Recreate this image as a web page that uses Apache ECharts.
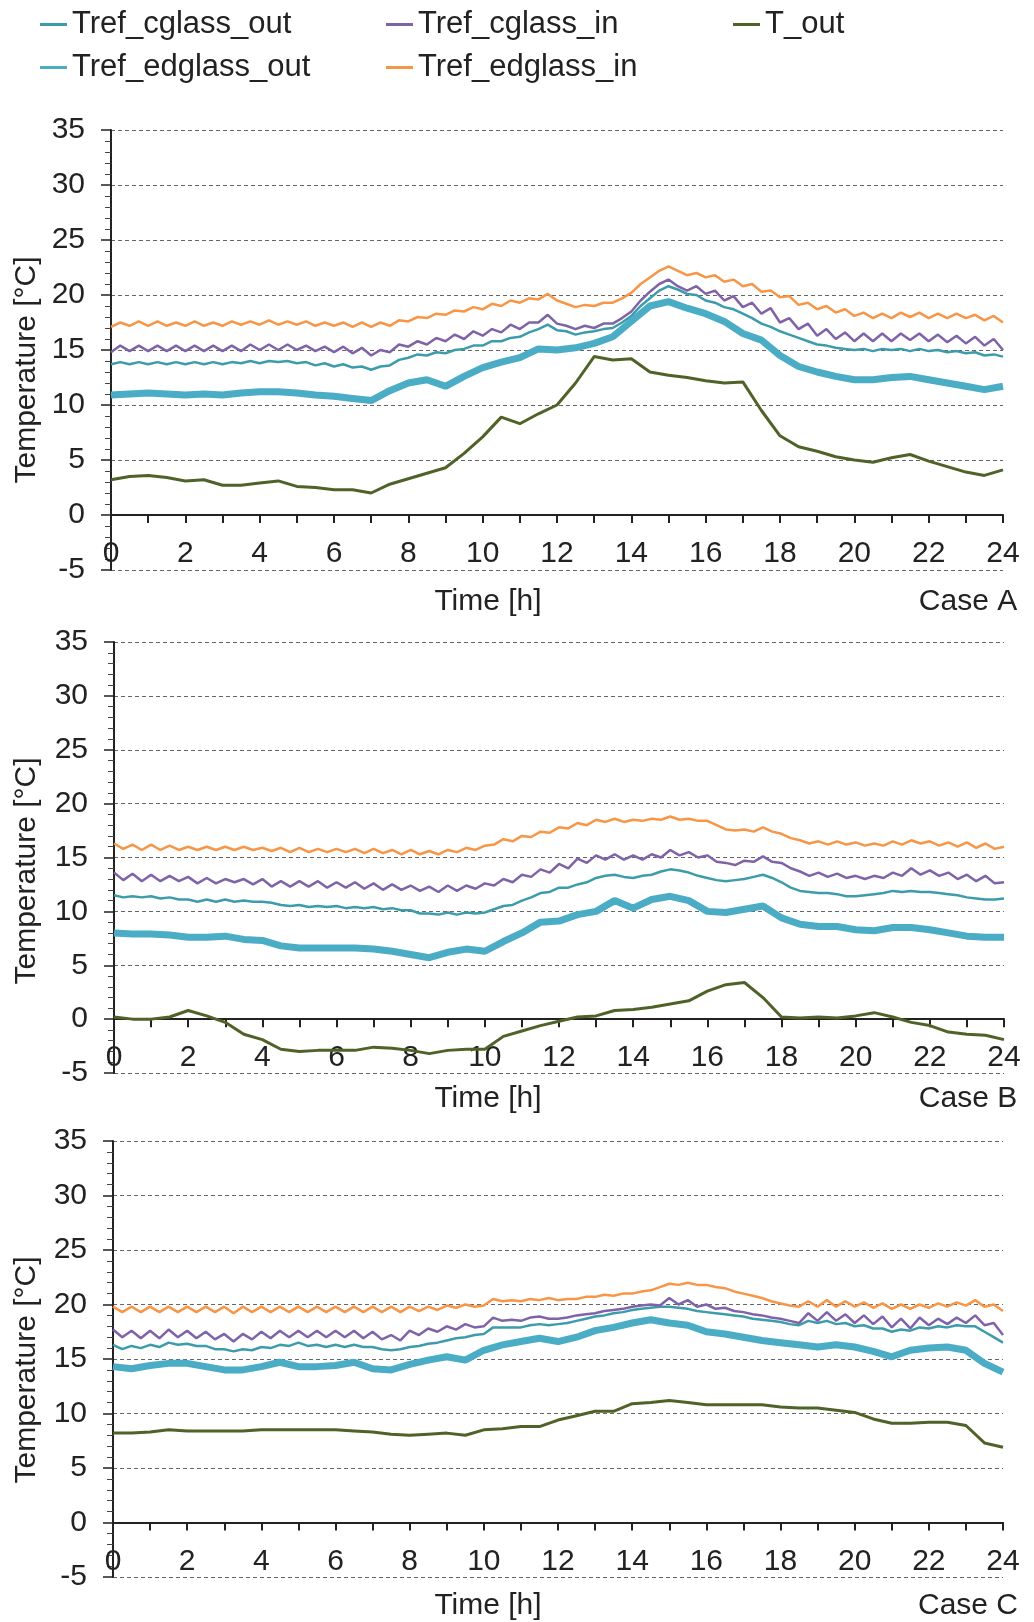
<!DOCTYPE html>
<html>
<head>
<meta charset="utf-8">
<script src="https://cdn.jsdelivr.net/npm/echarts@6/dist/echarts.min.js"></script>
<style>
  html, body { margin: 0; padding: 0; background: #fff; }
  #chart { width: 1034px; height: 1622px; }
</style>
</head>
<body>
<div id="chart"></div>
<script>
// sample times: glass-surface series every 15 min, T_out / edge-out every 30 min
const hoursQuarter = Array.from({ length: 97 }, (_, i) => i / 4);
const hoursHalf = Array.from({ length: 49 }, (_, i) => i / 2);

const seriesNames = ["Tref_cglass_out", "Tref_cglass_in", "T_out", "Tref_edglass_out", "Tref_edglass_in"];
const caseLabels = ["Case A", "Case B", "Case C"];

// ---- Case A ----
const caseA_cglassOut = [
  13.7, 13.9, 13.7, 13.9, 13.7, 13.9, 13.7, 13.9,
  13.7, 13.9, 13.7, 13.9, 13.7, 13.9, 13.8, 14.0,
  13.8, 14.0, 13.9, 14.0, 13.8, 13.9, 13.6, 13.8,
  13.5, 13.7, 13.4, 13.5, 13.2, 13.5, 13.6, 14.1,
  14.3, 14.6, 14.5, 14.8, 14.7, 15.0, 15.1, 15.4,
  15.4, 15.8, 15.8, 16.1, 16.2, 16.6, 16.9, 17.3,
  16.8, 16.7, 16.4, 16.6, 16.7, 16.9, 17.0, 17.5,
  18.1, 19.0, 19.7, 20.4, 20.8, 20.5, 20.1, 20.0,
  19.5, 19.3, 18.9, 18.7, 18.3, 17.9, 17.4, 17.1,
  16.7, 16.4, 16.1, 15.8, 15.5, 15.4, 15.2, 15.1,
  15.0, 15.1, 14.9, 15.1, 15.0, 15.1, 14.9, 15.1,
  14.9, 15.0, 14.8, 14.9, 14.7, 14.8, 14.5, 14.6,
  14.4
];
const caseA_cglassIn = [
  14.8, 15.4, 14.9, 15.4, 14.9, 15.4, 14.9, 15.4,
  14.9, 15.4, 14.9, 15.4, 14.9, 15.4, 14.9, 15.5,
  15.0, 15.5, 15.0, 15.5, 15.0, 15.4, 14.9, 15.3,
  14.8, 15.3, 14.7, 15.2, 14.5, 15.0, 14.8, 15.5,
  15.3, 15.8, 15.5, 16.1, 15.8, 16.4, 16.0, 16.7,
  16.3, 16.9, 16.6, 17.3, 16.9, 17.5, 17.5, 18.2,
  17.4, 17.2, 16.9, 17.2, 17.0, 17.4, 17.4, 17.9,
  18.5, 19.5, 20.3, 21.0, 21.4, 20.8, 20.4, 20.8,
  20.1, 20.4, 19.5, 19.9, 18.9, 19.3, 18.3, 18.8,
  17.5, 17.9, 16.9, 17.4, 16.3, 16.9, 16.0, 16.6,
  15.8, 16.5, 15.8, 16.5, 15.8, 16.5, 15.9, 16.5,
  15.8, 16.4, 15.7, 16.3, 15.6, 16.2, 15.4, 16.0,
  15.0
];
const caseA_tOut = [
  3.2, 3.5, 3.6, 3.4, 3.1, 3.2, 2.7, 2.7,
  2.9, 3.1, 2.6, 2.5, 2.3, 2.3, 2.0, 2.8,
  3.3, 3.8, 4.3, 5.6, 7.1, 8.9, 8.3, 9.2,
  10.0, 12.0, 14.4, 14.1, 14.2, 13.0, 12.7, 12.5,
  12.2, 12.0, 12.1, 9.5, 7.2, 6.2, 5.8, 5.3,
  5.0, 4.8, 5.2, 5.5, 4.9, 4.4, 3.9, 3.6,
  4.1
];
const caseA_edglassOut = [
  10.9, 11.0, 11.1, 11.0, 10.9, 11.0, 10.9, 11.1,
  11.2, 11.2, 11.1, 10.9, 10.8, 10.6, 10.4, 11.3,
  12.0, 12.3, 11.7, 12.6, 13.4, 13.9, 14.3, 15.1,
  15.0, 15.2, 15.6, 16.2, 17.6, 19.0, 19.4, 18.8,
  18.3, 17.6, 16.5, 15.9, 14.5, 13.5, 13.0, 12.6,
  12.3, 12.3, 12.5, 12.6, 12.3, 12.0, 11.7, 11.4,
  11.7
];
const caseA_edglassIn = [
  17.1, 17.5, 17.2, 17.6, 17.2, 17.6, 17.2, 17.5,
  17.2, 17.6, 17.2, 17.5, 17.2, 17.6, 17.3, 17.6,
  17.3, 17.7, 17.3, 17.6, 17.3, 17.6, 17.2, 17.5,
  17.2, 17.5, 17.1, 17.5, 17.1, 17.5, 17.2, 17.7,
  17.6, 18.0, 17.9, 18.3, 18.2, 18.6, 18.5, 18.9,
  18.7, 19.2, 19.0, 19.5, 19.3, 19.7, 19.6, 20.1,
  19.5, 19.2, 18.9, 19.1, 19.0, 19.3, 19.3, 19.7,
  20.2, 21.0, 21.6, 22.2, 22.6, 22.2, 21.8, 22.0,
  21.6, 21.8, 21.2, 21.4, 20.8, 21.0, 20.3, 20.4,
  19.8, 19.9, 19.1, 19.3, 18.7, 19.0, 18.4, 18.7,
  18.1, 18.4, 17.9, 18.3, 17.9, 18.4, 18.0, 18.4,
  17.9, 18.3, 17.9, 18.3, 17.9, 18.2, 17.7, 18.1,
  17.5
];

// ---- Case B ----
const caseB_cglassOut = [
  11.5, 11.3, 11.4, 11.3, 11.4, 11.2, 11.3, 11.1,
  11.1, 10.9, 11.1, 10.9, 11.1, 10.9, 11.0, 10.9,
  10.9, 10.8, 10.6, 10.5, 10.6, 10.4, 10.5, 10.4,
  10.5, 10.3, 10.4, 10.3, 10.4, 10.2, 10.3, 10.1,
  10.1, 9.8, 9.8, 9.7, 9.9, 9.7, 9.9, 9.8,
  9.9, 10.2, 10.5, 10.6, 11.0, 11.3, 11.7, 11.8,
  12.2, 12.2, 12.5, 12.7, 13.1, 13.3, 13.4, 13.2,
  13.1, 13.3, 13.4, 13.7, 13.9, 13.8, 13.6, 13.3,
  13.1, 12.9, 12.8, 12.9, 13.0, 13.2, 13.4, 13.1,
  12.7, 12.2, 11.9, 11.8, 11.7, 11.7, 11.6, 11.4,
  11.4, 11.5, 11.6, 11.7, 11.9, 11.8, 11.9, 11.8,
  11.8, 11.7, 11.6, 11.5, 11.3, 11.2, 11.1, 11.1,
  11.2
];
const caseB_cglassIn = [
  13.6, 12.9, 13.5, 12.8, 13.4, 12.8, 13.3, 12.8,
  13.2, 12.6, 13.1, 12.6, 13.0, 12.7, 13.0, 12.5,
  13.0, 12.3, 12.8, 12.3, 12.8, 12.3, 12.8, 12.2,
  12.7, 12.2, 12.7, 12.1, 12.6, 12.0, 12.5, 12.0,
  12.4, 11.9, 12.3, 11.8, 12.4, 11.9, 12.4, 12.1,
  12.6, 12.4, 13.0, 12.7, 13.4, 13.2, 13.9, 13.6,
  14.4, 14.0, 14.9, 14.5, 15.2, 14.8, 15.3, 14.8,
  15.2, 14.8, 15.3, 15.0, 15.7, 15.2, 15.5, 15.0,
  15.2, 14.6, 14.5, 14.3, 14.7, 14.6, 15.1, 14.6,
  14.5, 14.0, 13.7, 13.3, 13.6, 13.2, 13.5, 13.1,
  13.3, 13.0, 13.3, 13.1, 13.6, 13.3, 14.0, 13.4,
  13.8, 13.3, 13.6, 13.0, 13.4, 12.8, 13.3, 12.6,
  12.7
];
const caseB_tOut = [
  0.2, 0.0, 0.0, 0.2, 0.8, 0.3, -0.3, -1.4,
  -1.9, -2.8, -3.0, -2.9, -2.9, -2.9, -2.6, -2.7,
  -2.9, -3.2, -2.9, -2.8, -2.8, -1.6, -1.1, -0.6,
  -0.2, 0.2, 0.3, 0.8, 0.9, 1.1, 1.4, 1.7,
  2.6, 3.2, 3.4, 2.0, 0.2, 0.1, 0.2, 0.1,
  0.3, 0.6, 0.2, -0.3, -0.6, -1.2, -1.4, -1.5,
  -1.9
];
const caseB_edglassOut = [
  8.0, 7.9, 7.9, 7.8, 7.6, 7.6, 7.7, 7.4,
  7.3, 6.8, 6.6, 6.6, 6.6, 6.6, 6.5, 6.3,
  6.0, 5.7, 6.2, 6.5, 6.3, 7.2, 8.0, 9.0,
  9.1, 9.7, 10.0, 11.0, 10.3, 11.1, 11.4, 11.0,
  10.0, 9.9, 10.2, 10.5, 9.4, 8.8, 8.6, 8.6,
  8.3, 8.2, 8.5, 8.5, 8.3, 8.0, 7.7, 7.6,
  7.6
];
const caseB_edglassIn = [
  16.3, 15.8, 16.2, 15.7, 16.2, 15.7, 16.1, 15.7,
  16.0, 15.7, 16.0, 15.7, 16.0, 15.7, 16.0, 15.7,
  15.9, 15.6, 15.9, 15.5, 15.9, 15.5, 15.8, 15.5,
  15.8, 15.5, 15.8, 15.4, 15.8, 15.4, 15.7, 15.3,
  15.7, 15.3, 15.6, 15.3, 15.7, 15.5, 15.9, 15.7,
  16.1, 16.2, 16.7, 16.5, 17.0, 16.9, 17.4, 17.3,
  17.8, 17.7, 18.2, 18.0, 18.5, 18.3, 18.6, 18.3,
  18.5, 18.4, 18.6, 18.5, 18.8, 18.5, 18.6, 18.4,
  18.4, 18.0, 17.6, 17.5, 17.6, 17.4, 17.8, 17.4,
  17.2, 16.8, 16.6, 16.3, 16.5, 16.2, 16.5, 16.2,
  16.4, 16.1, 16.3, 16.1, 16.5, 16.2, 16.6, 16.3,
  16.5, 16.1, 16.4, 16.0, 16.4, 15.9, 16.3, 15.8,
  16.0
];

// ---- Case C ----
const caseC_cglassOut = [
  16.3, 15.9, 16.2, 16.0, 16.3, 16.1, 16.5, 16.3,
  16.4, 16.2, 16.2, 15.9, 15.9, 15.7, 15.9, 15.8,
  16.1, 16.0, 16.3, 16.2, 16.5, 16.2, 16.3, 16.1,
  16.3, 16.1, 16.3, 16.1, 16.1, 15.9, 15.8, 15.9,
  16.1, 16.2, 16.4, 16.5, 16.7, 16.9, 17.0, 17.2,
  17.3, 17.9, 17.9, 17.9, 17.9, 18.1, 18.2, 18.1,
  18.2, 18.3, 18.5, 18.7, 18.9, 19.0, 19.2, 19.3,
  19.5, 19.6, 19.7, 19.8, 19.8, 19.7, 19.6, 19.4,
  19.3, 19.2, 19.1, 19.0, 18.9, 18.7, 18.6, 18.5,
  18.4, 18.2, 18.1, 18.5, 18.3, 18.5, 18.2, 18.3,
  18.0, 18.1, 17.8, 17.8, 17.5, 17.7, 17.6, 17.9,
  17.8, 18.0, 17.9, 18.1, 18.0, 18.0, 17.5, 17.0,
  16.5
];
const caseC_cglassIn = [
  17.7, 17.0, 17.6, 16.9, 17.6, 16.9, 17.7, 17.0,
  17.6, 16.9, 17.5, 16.8, 17.3, 16.6, 17.3, 16.8,
  17.5, 16.9, 17.6, 17.0, 17.6, 17.0, 17.6, 17.0,
  17.6, 17.0, 17.6, 16.9, 17.5, 16.8, 17.2, 16.7,
  17.6, 17.2, 17.8, 17.5, 18.0, 17.7, 18.2, 17.9,
  18.0, 18.8, 18.5, 18.6, 18.5, 18.8, 18.9, 18.7,
  18.7, 18.8, 19.0, 19.1, 19.2, 19.4, 19.5, 19.6,
  19.8, 19.9, 20.0, 19.9, 20.6, 20.0, 20.4, 19.8,
  20.0, 19.6, 19.7, 19.4, 19.3, 19.1, 19.0, 18.8,
  18.7, 18.5, 18.3, 19.2, 18.5, 19.3, 18.5, 19.1,
  18.3, 19.0, 18.2, 18.9, 17.9, 18.7, 17.8, 18.8,
  18.1, 18.7, 18.2, 18.8, 18.3, 19.0, 18.1, 18.3,
  17.2
];
const caseC_tOut = [
  8.2, 8.2, 8.3, 8.5, 8.4, 8.4, 8.4, 8.4,
  8.5, 8.5, 8.5, 8.5, 8.5, 8.4, 8.3, 8.1,
  8.0, 8.1, 8.2, 8.0, 8.5, 8.6, 8.8, 8.8,
  9.4, 9.8, 10.2, 10.2, 10.9, 11.0, 11.2, 11.0,
  10.8, 10.8, 10.8, 10.8, 10.6, 10.5, 10.5, 10.3,
  10.1, 9.5, 9.1, 9.1, 9.2, 9.2, 8.9, 7.3,
  6.9
];
const caseC_edglassOut = [
  14.3, 14.1, 14.4, 14.6, 14.6, 14.3, 14.0, 14.0,
  14.3, 14.7, 14.3, 14.3, 14.4, 14.7, 14.1, 14.0,
  14.5, 14.9, 15.2, 14.9, 15.8, 16.3, 16.6, 16.9,
  16.6, 17.0, 17.6, 17.9, 18.3, 18.6, 18.3, 18.1,
  17.5, 17.3, 17.0, 16.7, 16.5, 16.3, 16.1, 16.3,
  16.1, 15.7, 15.2, 15.8, 16.0, 16.1, 15.8, 14.6,
  13.8
];
const caseC_edglassIn = [
  19.8, 19.3, 19.8, 19.3, 19.8, 19.3, 19.8, 19.3,
  19.8, 19.3, 19.8, 19.3, 19.8, 19.2, 19.8, 19.3,
  19.8, 19.3, 19.8, 19.3, 19.8, 19.3, 19.8, 19.3,
  19.8, 19.3, 19.8, 19.3, 19.8, 19.3, 19.8, 19.3,
  19.8, 19.4, 19.8, 19.5, 19.9, 19.7, 20.0, 19.8,
  19.9, 20.5, 20.3, 20.4, 20.3, 20.5, 20.4, 20.6,
  20.4, 20.5, 20.5, 20.7, 20.7, 20.9, 20.8, 21.0,
  21.0, 21.2, 21.3, 21.6, 21.9, 21.8, 22.0, 21.8,
  21.8, 21.6, 21.5, 21.2, 21.0, 20.8, 20.6, 20.3,
  20.1, 19.9, 19.8, 20.3, 19.8, 20.4, 19.8, 20.3,
  19.8, 20.2, 19.7, 20.1, 19.6, 20.0, 19.6, 20.0,
  19.7, 20.1, 19.8, 20.2, 19.9, 20.4, 19.8, 20.0,
  19.4
];

const yTicks = { min: -5, max: 35, step: 5 };

const FONT = "'Liberation Sans', Arial, sans-serif";
const TEXT = "#222";

const cases = [
  [caseA_cglassOut, caseA_cglassIn, caseA_tOut, caseA_edglassOut, caseA_edglassIn],
  [caseB_cglassOut, caseB_cglassIn, caseB_tOut, caseB_edglassOut, caseB_edglassIn],
  [caseC_cglassOut, caseC_cglassIn, caseC_tOut, caseC_edglassOut, caseC_edglassIn]
];

// per series: colour, width, which time grid
const looks = [
  { color: "#3d9cab", width: 2.5, x: hoursQuarter },
  { color: "#7f63a8", width: 2.5, x: hoursQuarter },
  { color: "#4f6228", width: 3, x: hoursHalf },
  { color: "#4bacc6", width: 7, x: hoursHalf },
  { color: "#f79646", width: 2.5, x: hoursQuarter }
];

const grids = [
  { left: 111, top: 130, width: 892, height: 440 },
  { left: 114, top: 642, width: 890, height: 431 },
  { left: 113, top: 1141, width: 890, height: 436 }
];
const footY = [602, 1099, 1606];
const yTitleY = [370, 871, 1370];

const legendSpots = [
  { left: 40, top: 9 },
  { left: 386, top: 9 },
  { left: 733, top: 9 },
  { left: 40, top: 52 },
  { left: 386, top: 52 }
];

function pairs(xs, ys) {
  return xs.map((x, i) => [x, ys[i]]);
}

// the time axis sits on the 0 °C line: lift it by the -5..0 band (1/8 of the grid)
const xAxis = grids.map((g, i) => ({
  type: "value",
  gridIndex: i,
  min: 0,
  max: 24,
  interval: 1,
  offset: -(g.height * (0 - yTicks.min)) / (yTicks.max - yTicks.min),
  axisLine: { onZero: false, lineStyle: { color: TEXT, width: 2 } },
  axisTick: { length: 8, lineStyle: { color: TEXT, width: 2 } },
  axisLabel: {
    formatter: (v) => (v % 2 === 0 ? String(v) : ""),
    fontSize: 30,
    color: TEXT,
    fontFamily: FONT,
    margin: 24
  },
  splitLine: { show: false }
}));

const yAxis = grids.map((g, i) => ({
  type: "value",
  gridIndex: i,
  min: yTicks.min,
  max: yTicks.max,
  interval: yTicks.step,
  axisLine: { show: true, onZero: false, lineStyle: { color: TEXT, width: 2 } },
  axisTick: { show: true, length: 10, lineStyle: { color: TEXT, width: 1.5 } },
  minorTick: { show: true, splitNumber: 5, length: 6, lineStyle: { color: "#444", width: 1 } },
  axisLabel: { fontSize: 30, color: TEXT, fontFamily: FONT, margin: 26 },
  splitLine: { show: true, lineStyle: { color: "#666", type: [4, 3], width: 1 } }
}));

const series = [];
cases.forEach((values, gi) => {
  values.forEach((ys, si) => {
    const look = looks[si];
    series.push({
      name: seriesNames[si],
      type: "line",
      xAxisIndex: gi,
      yAxisIndex: gi,
      data: pairs(look.x, ys),
      showSymbol: false,
      color: look.color,
      lineStyle: { color: look.color, width: look.width },
      z: 3
    });
  });
});

const legend = seriesNames.map((name, i) => ({
  data: [name],
  left: legendSpots[i].left,
  top: legendSpots[i].top,
  padding: 0,
  icon: "rect",
  itemWidth: 27,
  itemHeight: 3,
  selectedMode: false,
  textStyle: { fontSize: 31, color: TEXT, fontFamily: FONT }
}));

const labelStyle = { fontSize: 30, fontFamily: FONT, fill: TEXT, align: "center", verticalAlign: "middle" };
const graphic = [];
footY.forEach((y, i) => {
  graphic.push({ type: "text", x: 488, y: y, style: { ...labelStyle, text: "Time [h]" } });
  graphic.push({ type: "text", x: 968, y: y, style: { ...labelStyle, text: caseLabels[i] } });
  graphic.push({
    type: "text",
    x: 27,
    y: yTitleY[i],
    rotation: Math.PI / 2,
    style: { ...labelStyle, text: "Temperature [°C]" }
  });
});

const chart = echarts.init(document.getElementById("chart"));
chart.setOption({
  animation: false,
  backgroundColor: "#fff",
  grid: grids,
  xAxis: xAxis,
  yAxis: yAxis,
  legend: legend,
  graphic: graphic,
  series: series
});
</script>
</body>
</html>
